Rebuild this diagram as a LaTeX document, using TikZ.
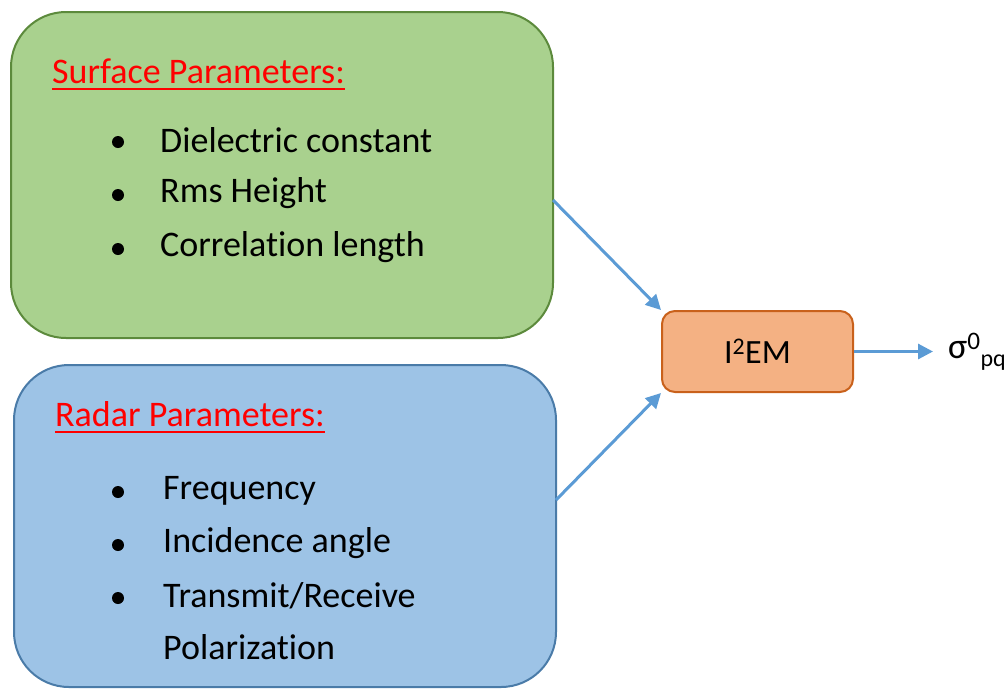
\documentclass[tikz,border=0pt]{standalone}
\usepackage{fontspec}
\setmainfont[Ligatures=NoCommon]{Carlito}
\usetikzlibrary{arrows.meta}
\definecolor{grfill}{HTML}{A9D18E}
\definecolor{grline}{HTML}{5C8A3C}
\definecolor{blfill}{HTML}{9DC3E6}
\definecolor{blline}{HTML}{4A7BA8}
\definecolor{orfill}{HTML}{F4B183}
\definecolor{orline}{HTML}{C9611B}
\definecolor{arrowc}{HTML}{5B9BD5}
\tikzset{
  x=1pt, y=-1pt,
  panel/.style={draw, line width=2pt, rounded corners=55pt},
  title/.style={anchor=base west, text=red, font=\fontsize{36}{40}\selectfont, inner sep=0pt},
  item/.style={anchor=west, font=\fontsize{36}{40}\selectfont, inner sep=0pt},
  dot/.style={circle, fill=black, inner sep=0pt, minimum size=12pt},
  flow/.style={draw=arrowc, line width=3pt, -{Triangle[length=15pt,width=15pt]}},
}
\begin{document}
\begin{tikzpicture}
\useasboundingbox (0,0) rectangle (1008,689);
% input panels
\draw[panel, draw=grline, fill=grfill] (11,12) rectangle (553,338);
\draw[panel, draw=blline, fill=blfill] (14,365) rectangle (556,687);
\coordinate (gout) at (553,200);
\coordinate (bout) at (556,500);
% model block
\node[draw=orline, fill=orfill, line width=2pt, rounded corners=13pt,
      minimum width=191pt, minimum height=81pt, inner sep=0pt,
      font=\fontsize{34}{38}\selectfont] (iem) at (757.5,351.5) {I\textsuperscript{2}EM};
\node[anchor=west, inner sep=0pt, font=\fontsize{36}{40}\selectfont] (sig) at (948,352)
  {σ\textsuperscript{0}\raisebox{-8pt}{\fontsize{24}{26}\selectfont pq}};
\coordinate (tip) at (933,351.5);
% surface parameters
\node[title] (st) at (52,83) {Surface Parameters:};
\draw[red, line width=2.5pt] ([yshift=-6pt]st.base west) -- ([yshift=-6pt]st.base east);
\node[dot] (sd1) at (118,142) {};
\node[dot] (sd2) at (118,195) {};
\node[dot] (sd3) at (118,249) {};
\node[item] (s1) at (160,140) {Dielectric constant};
\node[item] (s2) at (160,193) {Rms Height};
\node[item] (s3) at (160,247) {Correlation length};
% radar parameters
\node[title] (rt) at (55,426) {Radar Parameters:};
\draw[red, line width=2.5pt] ([yshift=-6pt]rt.base west) -- ([yshift=-6pt]rt.base east);
\node[dot] (rd1) at (118,492) {};
\node[dot] (rd2) at (118,545) {};
\node[dot] (rd3) at (118,598) {};
\node[item] (r1) at (163,491) {Frequency};
\node[item] (r2) at (163,543) {Incidence angle};
\node[item] (r3) at (163,596) {Transmit/Receive};
\node[item] (r4) at (163,647) {Polarization};
% connectors
\draw[flow] (gout) -- (iem.north west);
\draw[flow] (bout) -- (iem.south west);
\draw[flow] (iem.east) -- (tip);
\end{tikzpicture}
\end{document}
